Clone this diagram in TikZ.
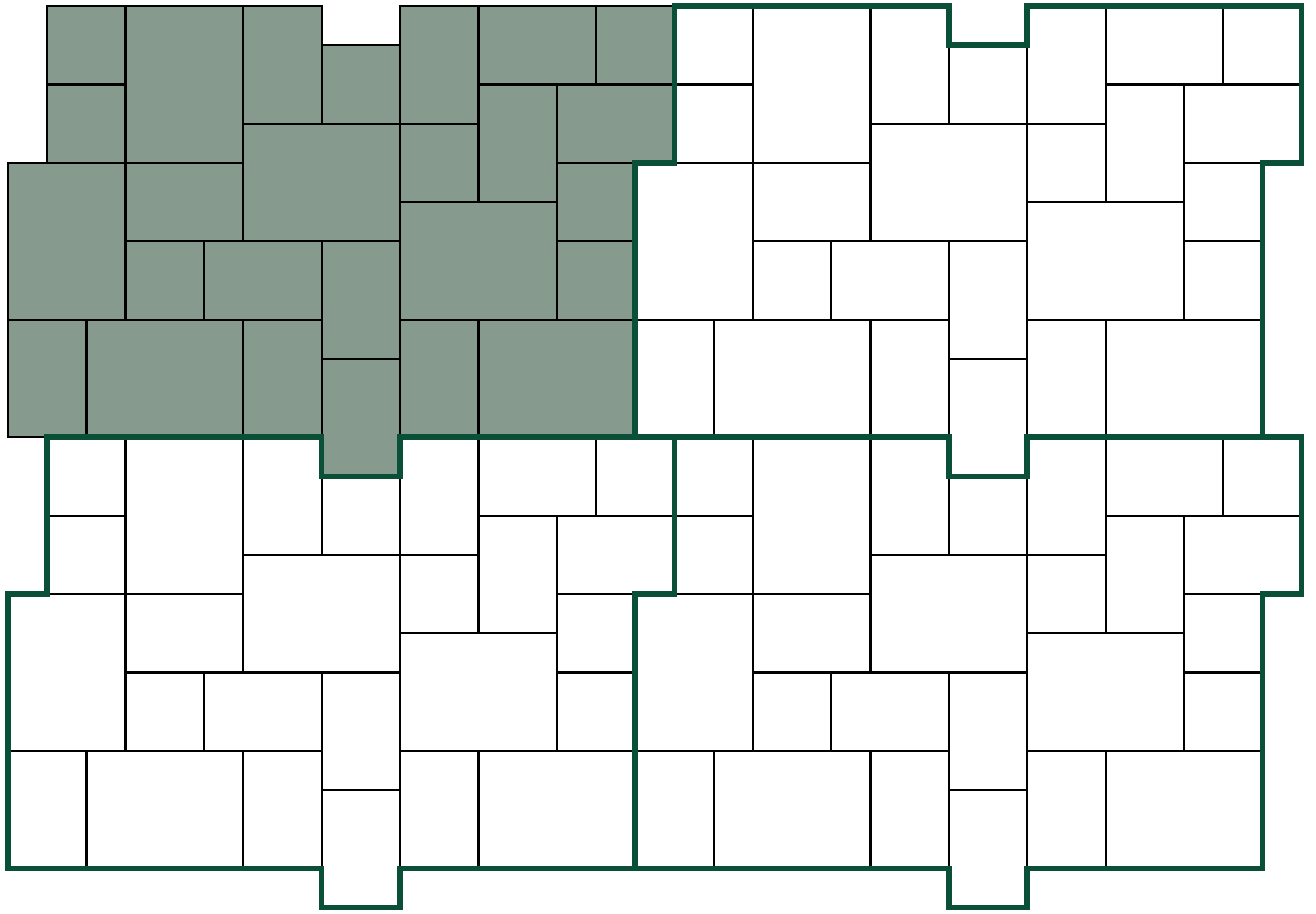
\documentclass[tikz,border=0pt]{standalone}
\definecolor{paverfill}{HTML}{869B8D}
\definecolor{paveredge}{HTML}{0A4F38}
% one tile of stones, option = fill of the stones
\newcommand{\paverstones}[1]{%
  \foreach \xa/\ya/\xb/\yb in {1/0/3/2, 1/2/3/4, 3/0/6/4, 6/0/8/3, 8/1/10/3,
      6/3/10/6, 3/4/6/6, 0/4/3/8, 3/6/5/8, 5/6/8/8, 8/6/10/9, 8/9/10/12,
      0/8/2/11, 2/8/6/11, 6/8/8/11, 10/8/12/11, 12/8/16/11, 10/5/14/8,
      10/0/12/3, 10/3/12/5, 12/0/15/2, 15/0/17/2, 12/2/14/5, 14/2/17/4,
      14/4/16/6, 14/6/16/8}
    \draw[stone,#1] (\xa,\ya) rectangle (\xb,\yb);}
\newcommand{\tileoutline}{%
  \draw[tileedge] (1,0) -- (8,0) -- (8,1) -- (10,1) -- (10,0) -- (17,0)
    -- (17,4) -- (16,4) -- (16,11) -- (10,11) -- (10,12) -- (8,12)
    -- (8,11) -- (0,11) -- (0,4) -- (1,4) -- cycle;}
\begin{document}
\begin{tikzpicture}[x=1cm,y=-1cm,
    stone/.style={draw=black,line width=1.6pt},
    tileedge/.style={draw=paveredge,line width=4pt,line join=miter}]
  \useasboundingbox (-0.204,-0.153) rectangle (33.367,23.138);
  % stones
  \paverstones{fill=paverfill}
  \begin{scope}[shift={(16,0)}]
    \paverstones{}
  \end{scope}
  \begin{scope}[shift={(0,11)}]
    \paverstones{}
  \end{scope}
  \begin{scope}[shift={(16,11)}]
    \paverstones{}
  \end{scope}
  % tile outlines
  \begin{scope}[shift={(16,0)}]
    \tileoutline
  \end{scope}
  \begin{scope}[shift={(0,11)}]
    \tileoutline
  \end{scope}
  \begin{scope}[shift={(16,11)}]
    \tileoutline
  \end{scope}
\end{tikzpicture}
\end{document}
